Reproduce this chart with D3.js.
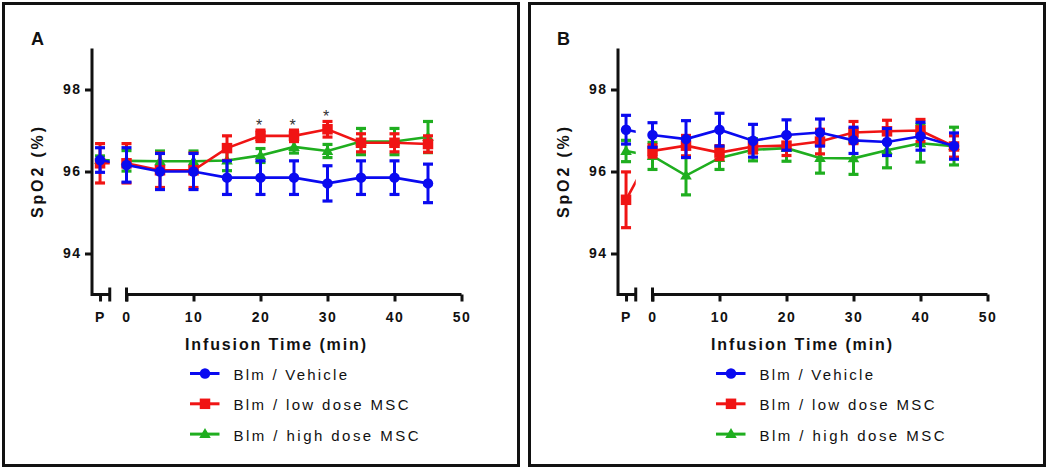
<!DOCTYPE html>
<html><head><meta charset="utf-8">
<script src="https://cdn.jsdelivr.net/npm/d3@7"></script>
<style>
body{margin:0;background:#fff;}
svg{display:block;}
text{font-family:Arial,"Liberation Sans",sans-serif;}
</style></head><body>
<svg id="chart" width="1050" height="472"></svg>
<script>
// ---------- data ----------
const timePoints = ["P","0","5","10","15","20","25","30","35","40","45"];
const seriesNames = ["Blm / Vehicle","Blm / low dose MSC","Blm / high dose MSC"];
const seriesColors = ["#0a0af0","#f01414","#1fae1f"];
const seriesShapes = ["circle","square","triangle"];
const xTickValues = [0,10,20,30,40,50];
const preTickLabel = "P";
const yTickValues = [94,96,98];
const panelLabels = ["A","B"];
const xTitle = "Infusion Time (min)";
const yTitle = "SpO2 (%)";

// Panel A (mean, error)
const aVehicleMean = [96.28,96.16,96.0,96.0,95.85,95.85,95.85,95.71,95.85,95.85,95.71];
const aVehicleErr  = [0.30,0.42,0.44,0.44,0.41,0.41,0.41,0.43,0.41,0.41,0.47];
const aLowMean     = [96.2,96.2,96.03,96.03,96.57,96.87,96.87,97.03,96.7,96.7,96.67];
const aLowErr      = [0.48,0.48,0.42,0.42,0.30,0.14,0.14,0.19,0.22,0.22,0.20];
const aHighMean    = [96.28,96.26,96.25,96.25,96.27,96.39,96.6,96.5,96.73,96.73,96.84];
const aHighErr     = [0.10,0.25,0.25,0.25,0.25,0.17,0.15,0.16,0.32,0.32,0.38];
const aSignificant = ["20","25","30"];

// Panel B (mean, error)
const bVehicleMean = [97.02,96.89,96.79,97.02,96.75,96.89,96.95,96.76,96.72,96.86,96.62];
const bVehicleErr  = [0.35,0.30,0.45,0.40,0.40,0.37,0.33,0.32,0.33,0.34,0.32];
const bLowMean     = [95.31,96.5,96.63,96.46,96.61,96.63,96.73,96.95,96.98,97.0,96.61];
const bLowErr      = [0.68,0.15,0.25,0.17,0.16,0.24,0.30,0.27,0.27,0.27,0.26];
const bHighMean    = [96.5,96.38,95.9,96.33,96.53,96.57,96.33,96.32,96.52,96.69,96.62];
const bHighErr     = [0.26,0.33,0.47,0.28,0.27,0.32,0.37,0.39,0.43,0.46,0.46];
const bSignificant = [];

// ---------- layout ----------
const panels = [
  {label: panelLabels[0], offset: 0,
   means: [aVehicleMean, aLowMean, aHighMean], errs: [aVehicleErr, aLowErr, aHighErr], sig: aSignificant},
  {label: panelLabels[1], offset: 526,
   means: [bVehicleMean, bLowMean, bHighMean], errs: [bVehicleErr, bLowErr, bHighErr], sig: bSignificant}
];
const preTime = -3.95;      // position of "P" on the broken x axis
const breakEnd = -2.5;      // end of pre segment
const svg = d3.select("#chart");
const x = d3.scaleLinear().domain([-5, 50]).range([93, 461.5]);
const y = d3.scaleLinear().domain([93, 99]).range([294.5, 48.5]);
const xv = t => t === preTickLabel ? preTime : +t;
const axisX = 92, baseY = y(93);

panels.forEach((p, pi) => {
  const g = svg.append("g").attr("transform", `translate(${p.offset},0)`);
  // frame
  g.append("rect").attr("x", 3.5 + (pi ? 0 : 0)).attr("y", 3.5)
    .attr("width", 515).attr("height", 462)
    .attr("fill", "none").attr("stroke", "#111").attr("stroke-width", 3);

  // panel label
  g.append("text").attr("x", 31).attr("y", 45).attr("font-size", 18)
    .attr("font-weight", "bold").attr("fill", "#111").text(p.label);

  // y axis
  const ya = g.append("g").attr("transform", `translate(${axisX},0)`)
    .call(d3.axisLeft(y).tickValues(yTickValues).tickSize(7).tickPadding(3.5).tickFormat(d3.format("d")));
  ya.select(".domain").remove();
  ya.selectAll(".tick line").attr("stroke", "#111").attr("stroke-width", 3);
  ya.selectAll(".tick text").attr("font-size", 14).attr("font-weight", "bold")
    .attr("letter-spacing", "1.5px").attr("fill", "#111").attr("font-family", "Arial,'Liberation Sans',sans-serif");

  // axis lines: y axis + pre segment, main segment
  g.append("path")
    .attr("d", `M${axisX},${y(99)}V${baseY}H${x(breakEnd)}`)
    .attr("fill", "none").attr("stroke", "#111").attr("stroke-width", 3);
  g.append("path")
    .attr("d", `M${x(0)},${baseY}H${x(50)}`)
    .attr("fill", "none").attr("stroke", "#111").attr("stroke-width", 3);
  // break marks
  [x(breakEnd), x(0)].forEach(bx => {
    g.append("line").attr("x1", bx).attr("x2", bx).attr("y1", baseY - 7).attr("y2", baseY + 7)
      .attr("stroke", "#111").attr("stroke-width", 3);
  });

  // x axis ticks
  const styleX = sel => {
    sel.select(".domain").remove();
    sel.selectAll(".tick line").attr("stroke", "#111").attr("stroke-width", 3);
    sel.selectAll(".tick text").attr("font-size", 14).attr("font-weight", "bold")
      .attr("letter-spacing", "1.5px").attr("fill", "#111").attr("font-family", "Arial,'Liberation Sans',sans-serif");
  };
  g.append("g").attr("transform", `translate(0,${baseY})`)
    .call(d3.axisBottom(x).tickValues(xTickValues).tickSize(7).tickPadding(11).tickFormat(d3.format("d")))
    .call(styleX);
  g.append("g").attr("transform", `translate(0,${baseY})`)
    .call(d3.axisBottom(x).tickValues([preTime]).tickSize(7).tickPadding(11).tickFormat(() => preTickLabel))
    .call(styleX);

  // axis titles
  g.append("text").attr("x", 185).attr("y", 349.5).attr("font-size", 16).attr("font-weight", "bold")
    .attr("fill", "#111").attr("textLength", 181).attr("lengthAdjust", "spacing").text(xTitle);
  g.append("text").attr("transform", "translate(42.5,172.5) rotate(-90)").attr("text-anchor", "middle")
    .attr("font-size", 16).attr("font-weight", "bold").attr("fill", "#111")
    .attr("textLength", 91).attr("lengthAdjust", "spacing").text(yTitle);

  // clip for broken axis lines
  const clipId = "clip" + pi;
  const cp = g.append("clipPath").attr("id", clipId);
  cp.append("rect").attr("x", axisX).attr("y", 0).attr("width", x(breakEnd) - axisX).attr("height", 472);
  cp.append("rect").attr("x", x(0)).attr("y", 0).attr("width", 400).attr("height", 472);

  const markerPath = (shape, s) => {
    if (shape === "circle") return d3.symbol(d3.symbolCircle, Math.PI * s * s / 4)();
    if (shape === "square") return `M${-s/2},${-s/2}h${s}v${s}h${-s}Z`;
    const h = s * 0.95;
    return `M0,${-h*0.6}L${s*0.55},${h*0.4}L${-s*0.55},${h*0.4}Z`;
  };

  // draw series: high, low, vehicle (vehicle on top)
  [2, 1, 0].forEach(si => {
    const col = seriesColors[si];
    const data = timePoints.map((t, i) => ({t, m: p.means[si][i], e: p.errs[si][i]}));
    const sg = g.append("g");
    sg.append("path").datum(data)
      .attr("clip-path", `url(#${clipId})`)
      .attr("d", d3.line().x(d => x(xv(d.t))).y(d => y(d.m)))
      .attr("fill", "none").attr("stroke", col).attr("stroke-width", 2.6);
    const eb = sg.selectAll(".eb").data(data).enter().append("g");
    eb.append("line").attr("x1", d => x(xv(d.t))).attr("x2", d => x(xv(d.t)))
      .attr("y1", d => y(d.m - d.e)).attr("y2", d => y(d.m + d.e))
      .attr("stroke", col).attr("stroke-width", 3);
    [-1, 1].forEach(sgn => {
      eb.append("line").attr("x1", d => x(xv(d.t)) - 5).attr("x2", d => x(xv(d.t)) + 5)
        .attr("y1", d => y(d.m + sgn * d.e)).attr("y2", d => y(d.m + sgn * d.e))
        .attr("stroke", col).attr("stroke-width", 3.2);
    });
    sg.selectAll(".mk").data(data).enter().append("path")
      .attr("transform", d => `translate(${x(xv(d.t))},${y(d.m)})`)
      .attr("d", markerPath(seriesShapes[si], 10.5)).attr("fill", col);
  });

  // significance stars above low dose series
  p.sig.forEach(t => {
    const i = timePoints.indexOf(t);
    const top = p.means[1][i] + p.errs[1][i];
    g.append("text").attr("x", x(+t) - 1.5).attr("y", y(top) - 8.5 + 9)
      .attr("text-anchor", "middle").attr("font-size", 16).attr("fill", "#333").text("*");
  });

  // legend
  seriesNames.forEach((name, si) => {
    const by = 380 + si * 30.3;
    const cy = by - 6.5;
    g.append("line").attr("x1", 190).attr("x2", 219.5).attr("y1", cy).attr("y2", cy)
      .attr("stroke", seriesColors[si]).attr("stroke-width", 3);
    g.append("path").attr("transform", `translate(205,${cy})`)
      .attr("d", markerPath(seriesShapes[si], 10.5)).attr("fill", seriesColors[si]);
    g.append("text").attr("x", 233.5).attr("y", by).attr("font-size", 15).attr("fill", "#111")
      .attr("textLength", [113.5, 175, 185][si]).attr("lengthAdjust", "spacing").text(name);
  });
});
</script>
</body></html>
